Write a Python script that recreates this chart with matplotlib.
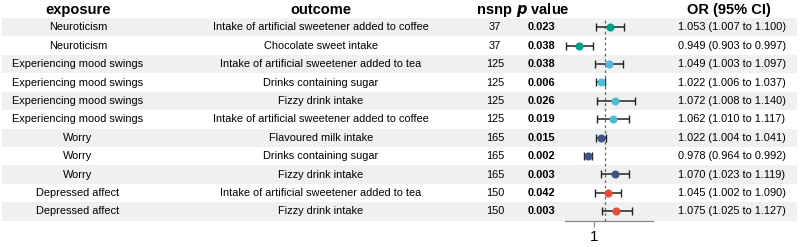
import matplotlib
matplotlib.use("Agg")
import matplotlib.pyplot as plt

# data
exposure = ["Neuroticism", "Neuroticism", "Experiencing mood swings",
            "Experiencing mood swings", "Experiencing mood swings",
            "Experiencing mood swings", "Worry", "Worry", "Worry",
            "Depressed affect", "Depressed affect"]
outcome = ["Intake of artificial sweetener added to coffee",
           "Chocolate sweet intake",
           "Intake of artificial sweetener added to tea",
           "Drinks containing sugar",
           "Fizzy drink intake",
           "Intake of artificial sweetener added to coffee",
           "Flavoured milk intake",
           "Drinks containing sugar",
           "Fizzy drink intake",
           "Intake of artificial sweetener added to tea",
           "Fizzy drink intake"]
nsnp = [37, 37, 125, 125, 125, 125, 165, 165, 165, 150, 150]
pval = ["0.023", "0.038", "0.038", "0.006", "0.026", "0.019",
        "0.015", "0.002", "0.003", "0.042", "0.003"]
or_est = [1.053, 0.949, 1.049, 1.022, 1.072, 1.062, 1.022, 0.978, 1.070, 1.045, 1.075]
or_lo = [1.007, 0.903, 1.003, 1.006, 1.008, 1.010, 1.004, 0.964, 1.023, 1.002, 1.025]
or_hi = [1.100, 0.997, 1.097, 1.037, 1.140, 1.117, 1.041, 0.992, 1.119, 1.090, 1.127]

exposure_colors = {"Neuroticism": "#00A087",
                   "Experiencing mood swings": "#4DBBD5",
                   "Worry": "#3C5488",
                   "Depressed affect": "#E64B35"}

W, H = 800, 247
plt.rcParams["font.family"] = ["Liberation Sans", "DejaVu Sans"]

fig = plt.figure(figsize=(W / 100, H / 100), dpi=100)

# background axes in pixel coordinates for the table part
bg = fig.add_axes([0, 0, 1, 1])
bg.set_xlim(0, W)
bg.set_ylim(H, 0)
bg.axis("off")

row_y0, row_h = 27.3, 18.4
rows = [row_y0 + i * row_h for i in range(len(exposure))]

for i, y in enumerate(rows):
    if i % 2 == 0:
        bg.axhspan(y - row_h / 2, y + row_h / 2, xmin=2 / W, xmax=797 / W,
                   color="#eef1ef", lw=0, zorder=0)

# headers
hy = 10
bg.text(78, hy, "exposure", ha="center", va="center", fontsize=10.5, fontweight="bold")
bg.text(321, hy, "outcome", ha="center", va="center", fontsize=10.5, fontweight="bold")
bg.text(494, hy, "nsnp", ha="center", va="center", fontsize=10.5, fontweight="bold")
bg.text(543, hy, r"$\bfit{p}$ value", ha="center", va="center", fontsize=10.5, fontweight="bold")
bg.text(729, hy, "OR (95% CI)", ha="center", va="center", fontsize=10.5, fontweight="bold")

for i, y in enumerate(rows):
    bg.text(78, y, exposure[i], ha="center", va="center", fontsize=7.9)
    bg.text(321, y, outcome[i], ha="center", va="center", fontsize=7.9)
    bg.text(495, y, str(nsnp[i]), ha="center", va="center", fontsize=7.9)
    bg.text(541, y, pval[i], ha="center", va="center", fontsize=7.9, fontweight="bold")
    bg.text(732, y, "%.3f (%.3f to %.3f)" % (or_est[i], or_lo[i], or_hi[i]),
            ha="center", va="center", fontsize=7.9)

# forest part
x0, x1 = 565, 653
y_top, y_bot = 18.1, 221.2
ax = fig.add_axes([x0 / W, 1 - y_bot / H, (x1 - x0) / W, (y_bot - y_top) / H])
ax.patch.set_alpha(0)
ax.set_xlim(0.9, 1.2)
ax.set_ylim(y_bot, y_top)

ax.axvline(1.035, color="#666666", ls=(0, (2.2, 2.2)), lw=0.9, zorder=1)
for i, y in enumerate(rows):
    c = exposure_colors[exposure[i]]
    ax.errorbar(or_est[i], y, xerr=[[or_est[i] - or_lo[i]], [or_hi[i] - or_est[i]]],
                fmt="o", color=c, ecolor="#222222", elinewidth=1.1, capsize=2.8,
                capthick=1.0, markersize=4.8, mec=c, zorder=3)

for s in ["top", "right", "left"]:
    ax.spines[s].set_visible(False)
ax.spines["bottom"].set_color("#888888")
ax.spines["bottom"].set_linewidth(0.9)
ax.set_yticks([])
ax.set_xticks([1])
ax.set_xticklabels(["1"])
ax.tick_params(axis="x", length=4.5, width=0.9, color="#888888", labelsize=11, pad=1.5)

fig.savefig("out.png", dpi=100)
